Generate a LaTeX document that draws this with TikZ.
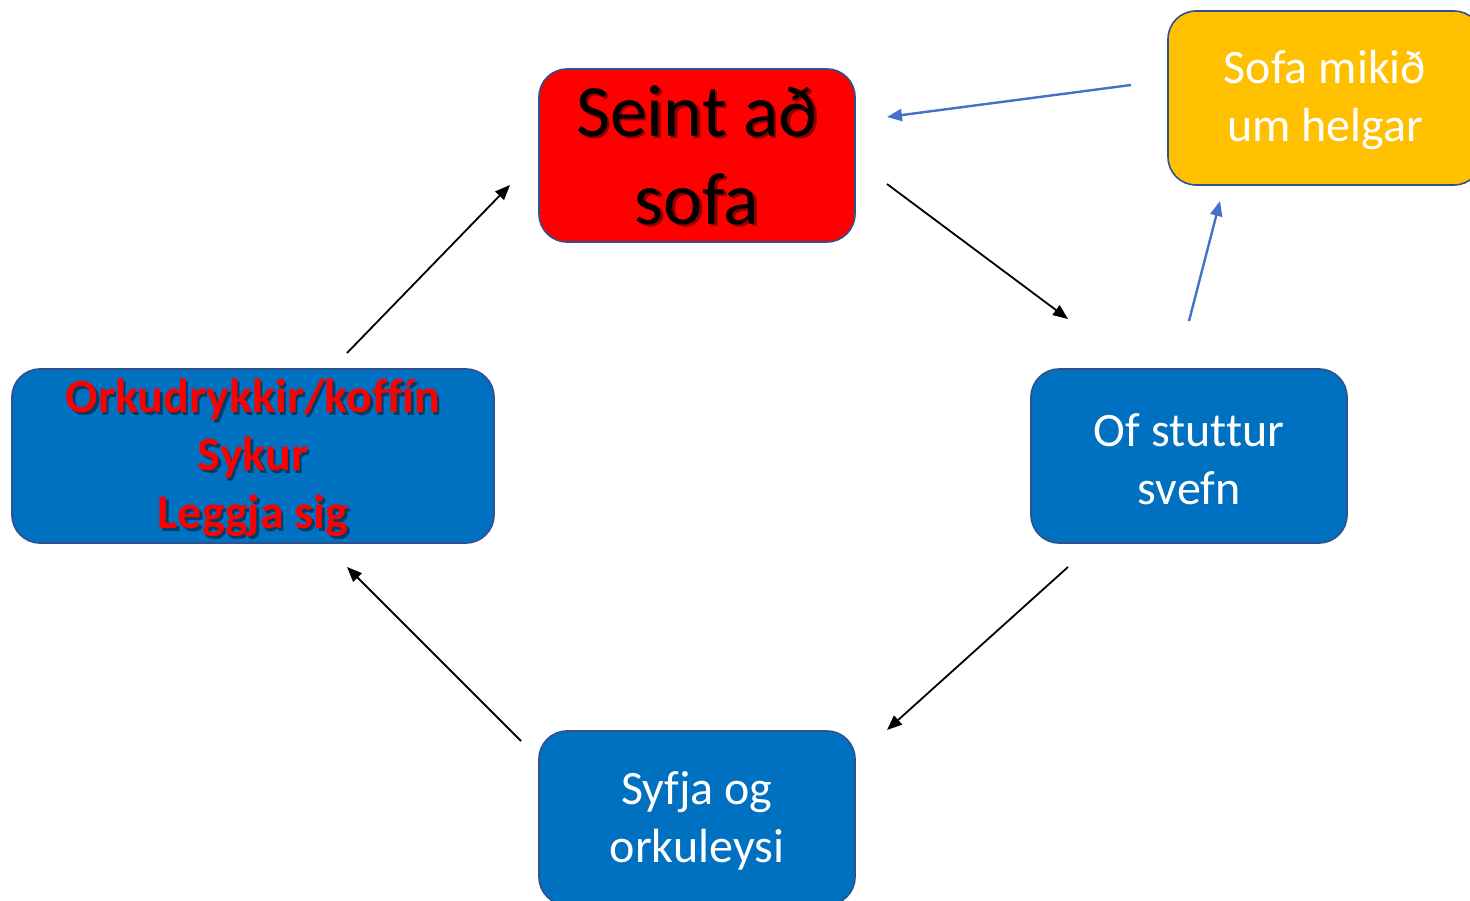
\documentclass[tikz,border=0pt]{standalone}
\usepackage{fontspec}
\setmainfont{Carlito}[Ligatures={NoCommon}]
\usetikzlibrary{arrows.meta}
\definecolor{boxblue}{HTML}{0070C0}
\definecolor{edgeblue}{HTML}{2F528F}
\definecolor{boxred}{HTML}{FF0000}
\definecolor{boxorange}{HTML}{FFC000}
\definecolor{arrowblue}{HTML}{4472C4}
\colorlet{redshadow}{boxred!55!black}
\colorlet{blueshadow}{boxblue!55!black}
\newcommand\shadline[2]{\leavevmode\rlap{\kern2.5pt\raisebox{-2.5pt}{\textcolor{#1}{#2}}}#2}
\tikzset{
  box/.style={draw=edgeblue, line width=1.6pt, rounded corners=28pt, inner sep=0pt},
  bigtxt/.style={align=center, inner sep=0pt, font=\fontsize{74}{88}\selectfont},
  midtxt/.style={align=center, inner sep=0pt, font=\fontsize{48}{57.5}\selectfont},
  boldtxt/.style={align=center, inner sep=0pt, font=\bfseries\fontsize{48}{58}\selectfont},
  blackarrow/.style={draw=black, line width=1.8pt, -{Triangle[length=15pt,width=12pt]}},
  bluearrow/.style={draw=arrowblue, line width=2.4pt, -{Triangle[length=15pt,width=12pt]}},
}
\begin{document}
\begin{tikzpicture}[x=1pt, y=-1pt]
\useasboundingbox (0,0) rectangle (1470,901);
\fill[white] (0,0) rectangle (1470,901);
% boxes
\node[box, fill=boxred, minimum width=316pt, minimum height=173pt] (seint) at (697,155.5) {};
\node[box, fill=boxorange, minimum width=314pt, minimum height=174pt] (helgar) at (1325,98) {};
\node[box, fill=boxblue, minimum width=482pt, minimum height=174pt] (orka) at (253,456) {};
\node[box, fill=boxblue, minimum width=316pt, minimum height=174pt] (stuttur) at (1189,456) {};
\node[box, fill=boxblue, minimum width=316pt, minimum height=174pt] (syfja) at (697,818) {};
% texts
\node[bigtxt, text=black] (seinttxt) at (697,156.5) {\shadline{redshadow}{Seint að}\\\shadline{redshadow}{sofa}};
\node[midtxt, text=white] (helgartxt) at (1325,100) {Sofa mikið\\um helgar};
\node[boldtxt, text=boxred] (orkatxt) at (253,459) {\shadline{blueshadow}{Orkudrykkir/koffín}\\\shadline{blueshadow}{Sykur}\\\shadline{blueshadow}{Leggja sig}};
\node[midtxt, text=white] (stutturtxt) at (1189,459) {Of stuttur\\svefn};
\node[midtxt, text=white] (syfjatxt) at (697,821) {Syfja og\\orkuleysi};
% connector ends
\coordinate (a1s) at (347,353);
\coordinate (a1e) at (510,185);
\coordinate (a2s) at (887,184);
\coordinate (a2e) at (1068,319);
\coordinate (a3s) at (1068,567);
\coordinate (a3e) at (887,730);
\coordinate (a4s) at (521,741);
\coordinate (a4e) at (347,567);
\coordinate (b1s) at (1131,85);
\coordinate (b1e) at (887,117);
\coordinate (b2s) at (1189,321);
\coordinate (b2e) at (1220,201);
\draw[blackarrow] (a1s) -- (a1e);
\draw[blackarrow] (a2s) -- (a2e);
\draw[blackarrow] (a3s) -- (a3e);
\draw[blackarrow] (a4s) -- (a4e);
\draw[bluearrow] (b1s) -- (b1e);
\draw[bluearrow] (b2s) -- (b2e);
\end{tikzpicture}
\end{document}
